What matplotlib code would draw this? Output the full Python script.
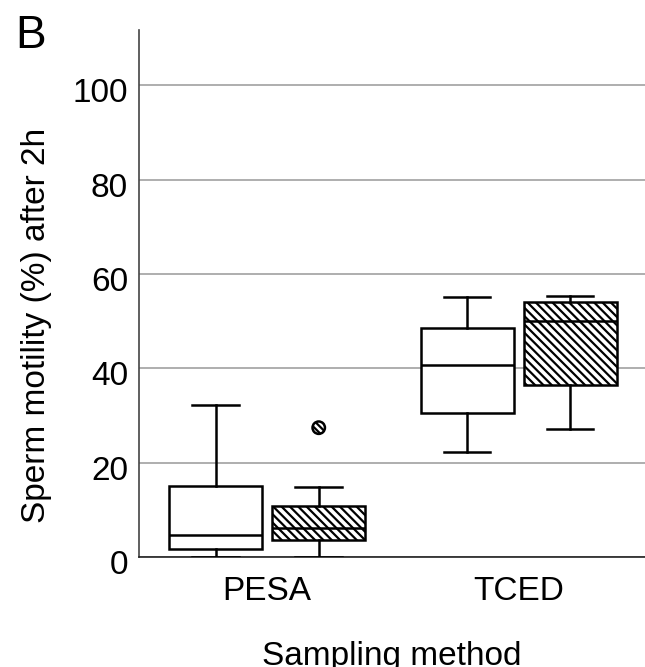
import matplotlib.pyplot as plt
import matplotlib.transforms as mtransforms
import numpy as np

plt.rcParams['font.family'] = ['Liberation Sans', 'DejaVu Sans']
plt.rcParams['hatch.linewidth'] = 1.6

# 采样方法
methods = ['PESA', 'TCED']

# 白色箱体（第一组）
plain_whislo = [0.0, 22.2]
plain_q1 = [1.6, 30.5]
plain_med = [4.7, 40.7]
plain_q3 = [15.1, 48.6]
plain_whishi = [32.2, 55.1]
plain_fliers = [[], []]

# 斜线箱体（第二组）
hatch_whislo = [0.0, 27.1]
hatch_q1 = [3.5, 36.4]
hatch_med = [6.2, 50.0]
hatch_q3 = [10.7, 54.1]
hatch_whishi = [14.8, 55.4]
hatch_fliers = [[27.4], []]


def make_stats(whislo, q1, med, q3, whishi):
    stats = []
    for i in range(len(med)):
        stats.append(dict(whislo=whislo[i], q1=q1[i], med=med[i], q3=q3[i],
                          whishi=whishi[i], fliers=[]))
    return stats


fig = plt.figure(figsize=(6.45, 6.67), dpi=100)
ax = fig.add_axes([0.2155, 0.165, 0.7845, 0.79])

pos = np.arange(1, len(methods) + 1)
offset = 0.205
width = 0.37
lw = 1.8
line = dict(color='black', linewidth=lw)

for stats, shift, hatch in [
        (make_stats(plain_whislo, plain_q1, plain_med, plain_q3, plain_whishi), -offset, None),
        (make_stats(hatch_whislo, hatch_q1, hatch_med, hatch_q3, hatch_whishi), offset, '\\\\\\\\')]:
    bp = ax.bxp(stats, positions=pos + shift, widths=width, capwidths=width / 2,
                patch_artist=True, showfliers=False,
                boxprops=dict(facecolor='white', edgecolor='black', linewidth=lw),
                medianprops=line, whiskerprops=line, capprops=line, zorder=3)
    for b in bp['boxes']:
        if hatch:
            b.set_hatch(hatch)

# 离群点
for i, vals in enumerate(hatch_fliers):
    if vals:
        ax.scatter([pos[i] + offset] * len(vals), vals, s=80, marker='o',
                   facecolor='white', edgecolor='black', linewidth=lw,
                   hatch='\\\\\\\\\\', zorder=4)

ax.set_xlim(0.49, 2.503)
ax.set_ylim(0, 111.7)
ax.set_yticks([0, 20, 40, 60, 80, 100])
ax.set_xticks(pos)
ax.set_xticklabels(methods)
ax.tick_params(axis='both', length=0, labelsize=24)
ax.tick_params(axis='x', pad=14)
ax.tick_params(axis='y', pad=8)
ax.yaxis.grid(True, color='#a8a8a8', linewidth=1.3, zorder=0)
ax.set_axisbelow(True)

# y 轴刻度文字稍微下移
shift_down = mtransforms.ScaledTranslation(0, -5 / 100, fig.dpi_scale_trans)
for lab in ax.get_yticklabels():
    lab.set_transform(lab.get_transform() + shift_down)

for s in ['top', 'right']:
    ax.spines[s].set_visible(False)
ax.spines['left'].set_color('#444444')
ax.spines['bottom'].set_color('#222222')
ax.spines['left'].set_linewidth(1.2)
ax.spines['bottom'].set_linewidth(1.2)

ax.set_xlabel('Sampling method', fontsize=24, labelpad=24)
ax.set_ylabel('Sperm motility (%) after 2h', fontsize=24)
ax.yaxis.set_label_coords(-0.172, 0.44)

fig.text(0.023, 0.928, 'B', fontsize=33, ha='left', va='baseline')

fig.savefig('out.png', dpi=100)
